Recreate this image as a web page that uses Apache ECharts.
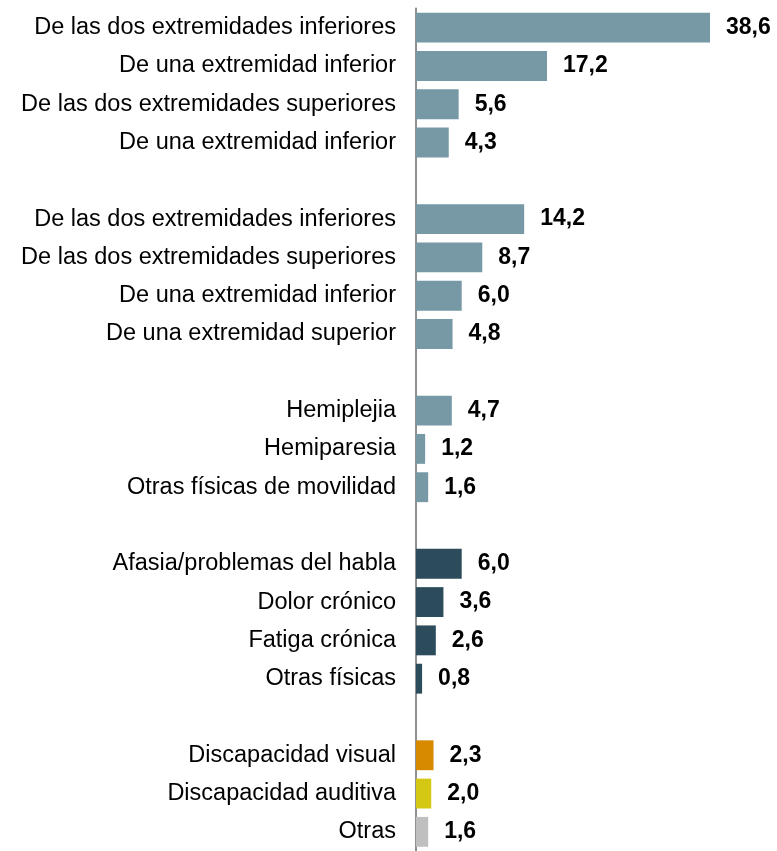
<!DOCTYPE html>
<html>
<head>
<meta charset="utf-8">
<script src="https://cdn.jsdelivr.net/npm/echarts@6/dist/echarts.min.js"></script>
<style>
html,body{margin:0;padding:0;background:#fff;}
#c{width:777px;height:851px;}
</style>
</head>
<body>
<div id="c"></div>
<script>
// Categories, top to bottom ('' = spacer row between groups)
var categories = [
  'De las dos extremidades inferiores',
  'De una extremidad inferior',
  'De las dos extremidades superiores',
  'De una extremidad inferior',
  '',
  'De las dos extremidades inferiores',
  'De las dos extremidades superiores',
  'De una extremidad inferior',
  'De una extremidad superior',
  '',
  'Hemiplejia',
  'Hemiparesia',
  'Otras físicas de movilidad',
  '',
  'Afasia/problemas del habla',
  'Dolor crónico',
  'Fatiga crónica',
  'Otras físicas',
  '',
  'Discapacidad visual',
  'Discapacidad auditiva',
  'Otras'
];
var values = [38.6, 17.2, 5.6, 4.3, null, 14.2, 8.7, 6.0, 4.8, null, 4.7, 1.2, 1.6, null, 6.0, 3.6, 2.6, 0.8, null, 2.3, 2.0, 1.6];
var groups = ['mov','mov','mov','mov','','mov','mov','mov','mov','','mov','mov','mov','','fis','fis','fis','fis','','vis','aud','otr'];

var groupColors = {mov:'#7699a5', fis:'#2c4b5b', vis:'#d78a00', aud:'#d4c814', otr:'#bfbfbf', '':'#ffffff'};

var seriesData = values.map(function(v, i){
  return {value: v, itemStyle: {color: groupColors[groups[i]]}};
});

var chart = echarts.init(document.getElementById('c'), null, {renderer:'canvas'});
chart.setOption({
  animation: false,
  backgroundColor: '#ffffff',
  grid: {left: 416, top: 8.5, width: 358, height: 847, containLabel: false},
  xAxis: {
    type: 'value', min: 0, max: 47,
    show: false
  },
  yAxis: {
    type: 'category', inverse: true, data: categories,
    axisLine: {show: true, lineStyle: {color: '#8f8f8f', width: 2}},
    axisTick: {show: false},
    splitLine: {show: false},
    axisLabel: {
      interval: 0, margin: 20, color: '#000000',
      fontFamily: 'Liberation Sans, Arial, sans-serif', fontSize: 23.5
    }
  },
  series: [{
    type: 'bar',
    data: seriesData,
    barCategoryGap: '22%',
    label: {
      show: true, position: 'right', distance: 16,
      color: '#000000', fontWeight: 'bold',
      fontFamily: 'Liberation Sans, Arial, sans-serif', fontSize: 23,
      formatter: function(p){ return p.value == null ? '' : p.value.toFixed(1).replace('.', ','); }
    }
  }]
});
</script>
</body>
</html>
